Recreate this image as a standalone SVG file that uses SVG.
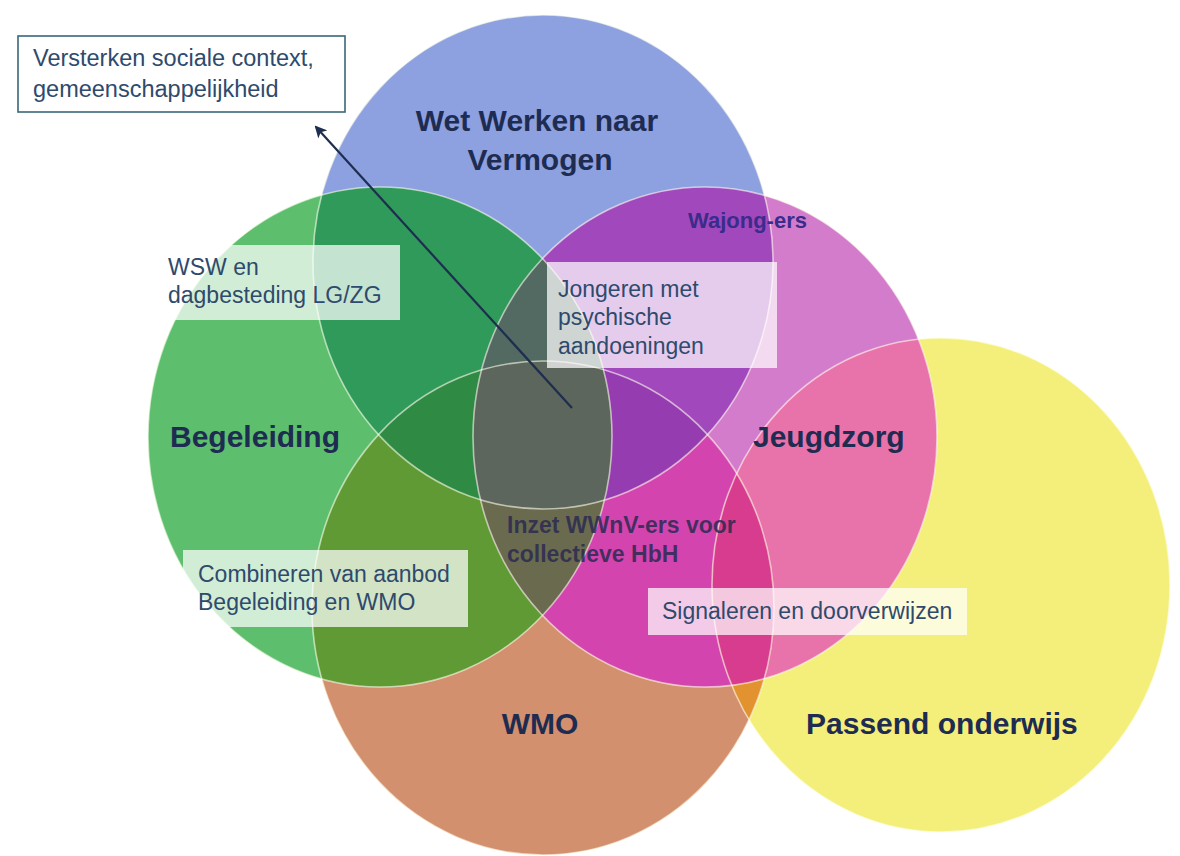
<svg xmlns="http://www.w3.org/2000/svg" width="1180" height="856" viewBox="0 0 1180 856">
<style>
.lbl{font-family:"Liberation Sans",Arial,sans-serif;font-weight:bold;font-size:30px;fill:#1e2c52}
.txt{font-family:"Liberation Sans",Arial,sans-serif;font-size:23px;fill:#2e4a6c}
.box{fill:#ffffff;fill-opacity:0.72}
.edge{fill:none;stroke:#fffff0;stroke-opacity:0.6;stroke-width:1.6}
</style>
<defs>
<ellipse id="eB" cx="543" cy="262" rx="230" ry="247"/>
<ellipse id="eG" cx="380" cy="437" rx="232" ry="250"/>
<ellipse id="eM" cx="705" cy="437" rx="232" ry="250"/>
<ellipse id="eR" cx="543" cy="608" rx="231" ry="247"/>
<ellipse id="eY" cx="941" cy="585" rx="229" ry="247"/>
<clipPath id="cB"><use href="#eB"/></clipPath>
<clipPath id="cG"><use href="#eG"/></clipPath>
<clipPath id="cM"><use href="#eM"/></clipPath>
<clipPath id="cR"><use href="#eR"/></clipPath>
<clipPath id="cY"><use href="#eY"/></clipPath>
<marker id="arr" viewBox="0 0 12 12" refX="10" refY="6" markerWidth="12" markerHeight="12" markerUnits="userSpaceOnUse" orient="auto">
<path d="M0,0 L12,6 L0,12 L3,6 Z" fill="#1e2e4e"/>
</marker>
</defs>
<rect width="1180" height="856" fill="#ffffff"/>
<g id="venn-fills">
<use href="#eY" fill="#f3ef7a"/>
<use href="#eR" fill="#d3906e"/>
<use href="#eB" fill="#8da0e0"/>
<use href="#eG" fill="#5dbf6d"/>
<use href="#eM" fill="#d47ccc"/>
<g clip-path="url(#cB)"><use href="#eG" fill="#309a5a"/></g>
<g clip-path="url(#cB)"><use href="#eM" fill="#a048bc"/></g>
<g clip-path="url(#cB)"><use href="#eR" fill="#6a70a0"/></g>
<g clip-path="url(#cG)"><use href="#eR" fill="#5f9a34"/></g>
<g clip-path="url(#cG)"><use href="#eM" fill="#5a6a62"/></g>
<g clip-path="url(#cM)"><use href="#eR" fill="#d444ae"/></g>
<g clip-path="url(#cM)"><use href="#eY" fill="#e872aa"/></g>
<g clip-path="url(#cR)"><use href="#eY" fill="#e2922e"/></g>
<g clip-path="url(#cB)"><g clip-path="url(#cG)"><use href="#eR" fill="#2f8a44"/></g></g>
<g clip-path="url(#cB)"><g clip-path="url(#cM)"><use href="#eR" fill="#943cb0"/></g></g>
<g clip-path="url(#cB)"><g clip-path="url(#cG)"><use href="#eM" fill="#526a62"/></g></g>
<g clip-path="url(#cG)"><g clip-path="url(#cM)"><use href="#eR" fill="#6a6a4e"/></g></g>
<g clip-path="url(#cM)"><g clip-path="url(#cR)"><use href="#eY" fill="#d83c8e"/></g></g>
<g clip-path="url(#cB)"><g clip-path="url(#cG)"><g clip-path="url(#cM)"><use href="#eR" fill="#5c665c"/></g></g></g>
</g>
<g id="outlines">
<use href="#eB" class="edge" stroke-opacity="0.3"/>
<use href="#eR" class="edge"/>
<use href="#eY" class="edge" stroke-opacity="0.3"/>
<use href="#eG" class="edge"/>
<use href="#eM" class="edge"/>
</g>
<g id="node-wet-werken">
<text class="lbl" x="537" y="131" text-anchor="middle">Wet Werken naar</text>
<text class="lbl" x="540" y="170" text-anchor="middle">Vermogen</text>
</g>
<g id="node-wajong">
<text class="lbl" x="688" y="228" style="font-size:22px;fill:#3a2c8a">Wajong-ers</text>
</g>
<g id="node-begeleiding">
<text class="lbl" x="170" y="447">Begeleiding</text>
</g>
<g id="node-jeugdzorg">
<text class="lbl" x="753" y="447">Jeugdzorg</text>
</g>
<g id="node-wmo">
<text class="lbl" x="540" y="734" text-anchor="middle">WMO</text>
</g>
<g id="node-passend">
<text class="lbl" x="806" y="734">Passend onderwijs</text>
</g>
<g id="node-wsw">
<rect class="box" x="160" y="245" width="240" height="75"/>
<text class="txt" x="168" y="275">WSW en</text>
<text class="txt" x="168" y="303">dagbesteding LG/ZG</text>
</g>
<g id="node-jongeren">
<rect class="box" x="547" y="262" width="230" height="106"/>
<text class="txt" x="558" y="297">Jongeren met</text>
<text class="txt" x="558" y="325">psychische</text>
<text class="txt" x="558" y="354">aandoeningen</text>
</g>
<g id="node-combineren">
<rect class="box" x="183" y="550" width="285" height="77"/>
<text class="txt" x="198" y="582">Combineren van aanbod</text>
<text class="txt" x="198" y="610">Begeleiding en WMO</text>
</g>
<g id="node-signaleren">
<rect class="box" x="648" y="588" width="319" height="47"/>
<text class="txt" x="662" y="619">Signaleren en doorverwijzen</text>
</g>
<g id="node-inzet">
<text class="lbl" x="507" y="533" style="font-size:23px;fill:#2a2a52;fill-opacity:0.85">Inzet WWnV-ers voor</text>
<text class="lbl" x="507" y="562" style="font-size:23px;fill:#2a2a52;fill-opacity:0.85">collectieve HbH</text>
</g>
<g id="node-versterken">
<rect x="18" y="36" width="327" height="76" fill="#ffffff" stroke="#3a6878" stroke-width="1.6"/>
<text class="txt" x="33" y="66" style="font-size:23.5px">Versterken sociale context,</text>
<text class="txt" x="33" y="97" style="font-size:23.5px">gemeenschappelijkheid</text>
</g>
<g id="connectors">
<line x1="572" y1="408" x2="316" y2="127" stroke="#1e2e4e" stroke-width="2.2" marker-end="url(#arr)"/>
</g>
</svg>
